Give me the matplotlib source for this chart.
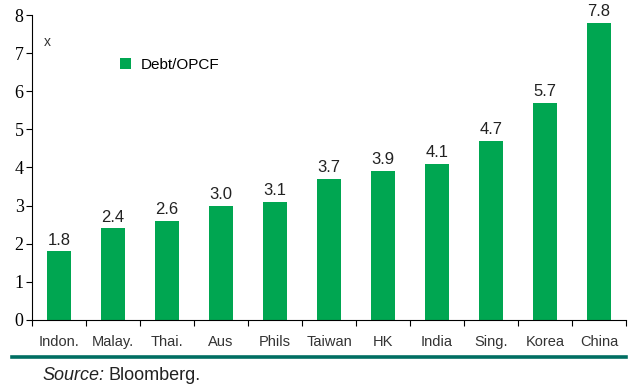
import numpy as np
import matplotlib.pyplot as plt
from matplotlib.lines import Line2D

# data
countries = ["Indon.", "Malay.", "Thai.", "Aus", "Phils", "Taiwan", "HK",
             "India", "Sing.", "Korea", "China"]
debt_opcf = [1.8, 2.4, 2.6, 3.0, 3.1, 3.7, 3.9, 4.1, 4.7, 5.7, 7.8]

green = "#00a651"
teal = "#006e62"
sans = ["Liberation Sans Narrow", "Liberation Sans", "DejaVu Sans"]

fig = plt.figure(figsize=(6.43, 3.88), dpi=100)
ax = fig.add_axes([0.0498, 0.1753, 0.9238, 0.786])

x = np.arange(len(countries))
ax.bar(x, debt_opcf, width=0.43, color=green, label="Debt/OPCF")

for xi, v in zip(x, debt_opcf):
    ax.text(xi, v + 0.1, f"{v:.1f}", ha="center", va="bottom",
            fontsize=12, family=sans, color="#222222")

ax.set_xlim(-0.5, len(countries) - 0.5)
ax.set_ylim(0, 8)
ax.set_yticks(range(0, 9))
ax.set_yticklabels([str(i) for i in range(0, 9)], family="Liberation Serif",
                   fontsize=13)

# ticks between categories, labels centred under bars
ax.set_xticks(np.arange(-0.5, len(countries)), minor=False)
ax.set_xticklabels([])
ax.set_xticks(x, minor=True)
ax.set_xticklabels(countries, minor=True, family=sans, fontsize=10.5,
                   color="#333333")
ax.tick_params(axis="x", which="minor", length=0, pad=11)
ax.tick_params(axis="x", which="major", length=4, direction="out")
ax.tick_params(axis="y", length=4, direction="out", pad=2)

for s in ["top", "right"]:
    ax.spines[s].set_visible(False)

ax.text(-0.28, 7.3, "x", fontsize=10, family=sans, color="#333333",
        ha="left", va="center")
ax.legend(loc="upper left", bbox_to_anchor=(0.125, 0.905), frameon=False,
          handlelength=0.75, handleheight=0.75, handletextpad=0.6,
          prop={"family": sans, "size": 11})

# teal rule and source
fig.add_artist(Line2D([12 / 643, 626 / 643], [1 - 357 / 388, 1 - 357 / 388],
                      color=teal, lw=2.6, transform=fig.transFigure))
src = fig.text(42 / 643, 1 - 376 / 388, "Source:", style="italic",
               family=sans, fontsize=13, va="center", color="#222222")
fig.add_artist(plt.Annotation("Bloomberg.", xy=(1, 0.5), xycoords=src,
                              xytext=(3, 0), textcoords="offset points",
                              va="center", family=sans, fontsize=13,
                              color="#222222"))

fig.savefig("out.png", dpi=100)
